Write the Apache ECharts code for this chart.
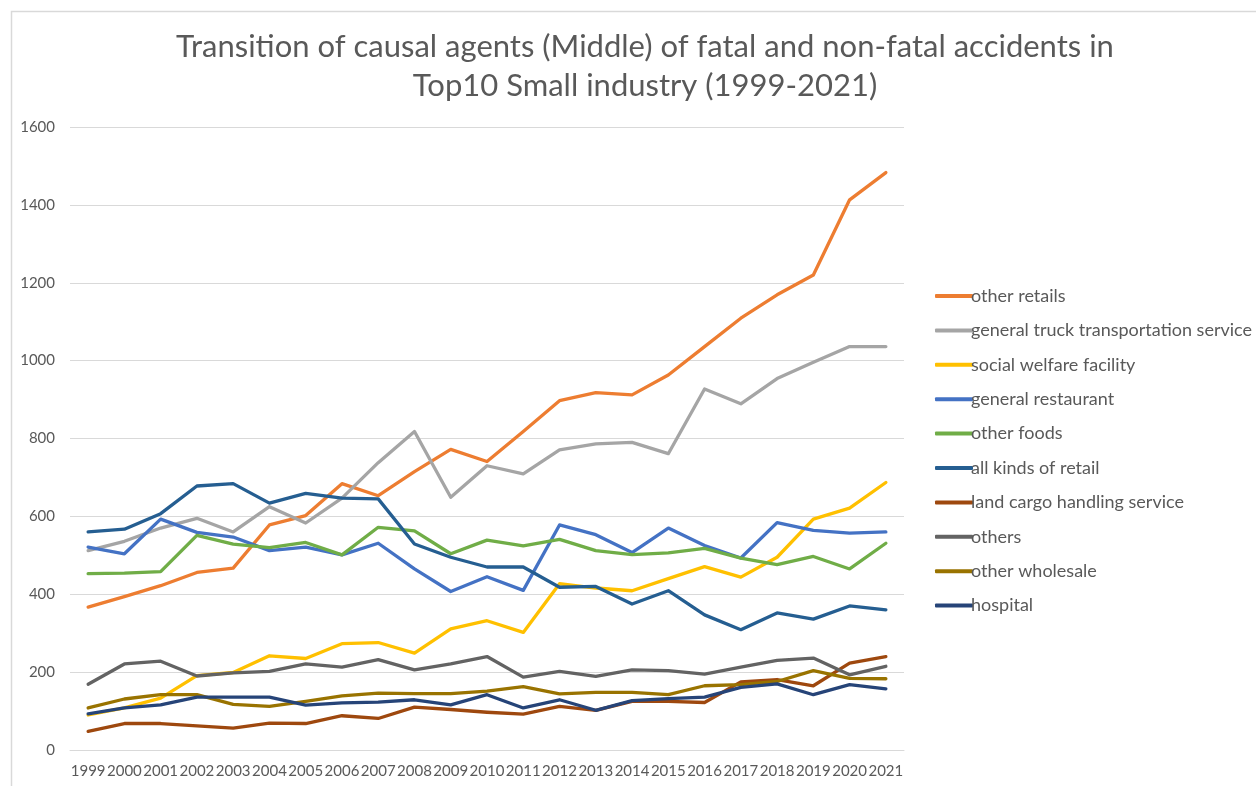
<!DOCTYPE html>
<html>
<head>
<meta charset="utf-8">
<script src="https://cdn.jsdelivr.net/npm/echarts@6/dist/echarts.min.js"></script>
<style>html,body{margin:0;padding:0;background:#fff}#c{width:1256px;height:786px}</style>
</head>
<body>
<div id="c"></div>
<script>
const years = ['1999','2000','2001','2002','2003','2004','2005','2006','2007','2008','2009','2010','2011','2012','2013','2014','2015','2016','2017','2018','2019','2020','2021'];
const yTicks = {min: 0, max: 1600, interval: 200};

const otherRetails   = [367,394,422,456,467,578,602,684,653,715,772,741,818,897,918,912,963,1036,1109,1169,1220,1413,1483];
const generalTruck   = [512,536,570,595,560,625,583,647,738,818,649,730,709,771,786,790,761,927,889,954,996,1036,1036];
const socialWelfare  = [90,108,133,191,199,242,235,273,276,249,311,332,302,427,416,409,440,471,444,495,593,621,687];
const generalRest    = [521,504,593,559,547,512,521,501,531,465,407,445,410,578,553,507,570,525,493,584,564,557,560];
const otherFoods     = [453,454,458,551,529,520,533,501,572,563,504,539,524,541,512,502,506,518,493,476,497,465,531];
const allKindsRetail = [560,567,607,678,684,634,659,647,645,529,495,470,470,418,420,375,409,347,309,352,336,370,360];
const landCargo      = [48,68,68,62,56,69,68,88,81,110,104,97,92,112,102,125,125,122,175,181,165,223,240];
const others         = [169,221,228,190,198,202,221,213,232,206,221,240,187,202,189,206,204,195,213,230,236,193,215];
const otherWholesale = [108,131,142,142,117,112,125,139,146,145,145,151,163,144,148,148,142,165,168,176,204,184,183];
const hospital       = [93,108,116,136,136,136,115,121,123,129,116,142,108,129,102,127,132,136,161,170,142,168,157];

const seriesDefs = [
  ['other retails', otherRetails, '#ED7D31'],
  ['general truck transportation service', generalTruck, '#A5A5A5'],
  ['social welfare facility', socialWelfare, '#FFC000'],
  ['general restaurant', generalRest, '#4472C4'],
  ['other foods', otherFoods, '#70AD47'],
  ['all kinds of retail', allKindsRetail, '#255E91'],
  ['land cargo handling service', landCargo, '#9E480E'],
  ['others', others, '#636363'],
  ['other wholesale', otherWholesale, '#997300'],
  ['hospital', hospital, '#264478']
];

const FONT = 'Lato, "Liberation Sans", sans-serif';
const chart = echarts.init(document.getElementById('c'), null, {renderer: 'canvas'});
chart.setOption({
  animation: false,
  backgroundColor: '#fff',
  textStyle: {fontFamily: FONT},
  title: {
    text: 'Transition of causal agents (Middle) of fatal and non-fatal accidents in\nTop10 Small industry (1999-2021)',
    left: 640, top: 22, textAlign: 'center',
    textStyle: {fontFamily: FONT, fontSize: 31, fontWeight: 'normal', color: '#595959', lineHeight: 39}
  },
  graphic: [{
    type: 'rect', left: 9, top: 9, silent: true,
    shape: {width: 1400, height: 900},
    style: {fill: 'none', stroke: '#d9d9d9', lineWidth: 1.5}
  }],
  legend: {
    orient: 'vertical', left: 930, top: 281,
    itemWidth: 38, itemHeight: 4, itemGap: 14.4,
    icon: 'roundRect',
    textStyle: {fontFamily: FONT, fontSize: 18, color: '#595959', lineHeight: 20, padding: [0,0,0,-7]},
    data: seriesDefs.map(d => d[0])
  },
  grid: {left: 70, right: 352, top: 127, bottom: 36, containLabel: false},
  xAxis: {
    type: 'category', data: years, boundaryGap: true,
    axisLine: {lineStyle: {color: '#d9d9d9', width: 1}},
    axisTick: {show: false},
    axisLabel: {color: '#595959', fontSize: 15, margin: 14, interval: 0, fontFamily: FONT}
  },
  yAxis: {
    type: 'value', min: yTicks.min, max: yTicks.max, interval: yTicks.interval,
    axisLine: {show: false}, axisTick: {show: false},
    splitLine: {lineStyle: {color: '#d9d9d9', width: 1}},
    axisLabel: {color: '#595959', fontSize: 15, margin: 15, fontFamily: FONT, formatter: v => String(v)}
  },
  series: seriesDefs.map(d => ({
    name: d[0], type: 'line', data: d[1], symbol: 'none', smooth: false,
    lineStyle: {color: d[2], width: 3.3, cap: 'round', join: 'round'},
    itemStyle: {color: d[2]}
  }))
});
</script>
</body>
</html>
